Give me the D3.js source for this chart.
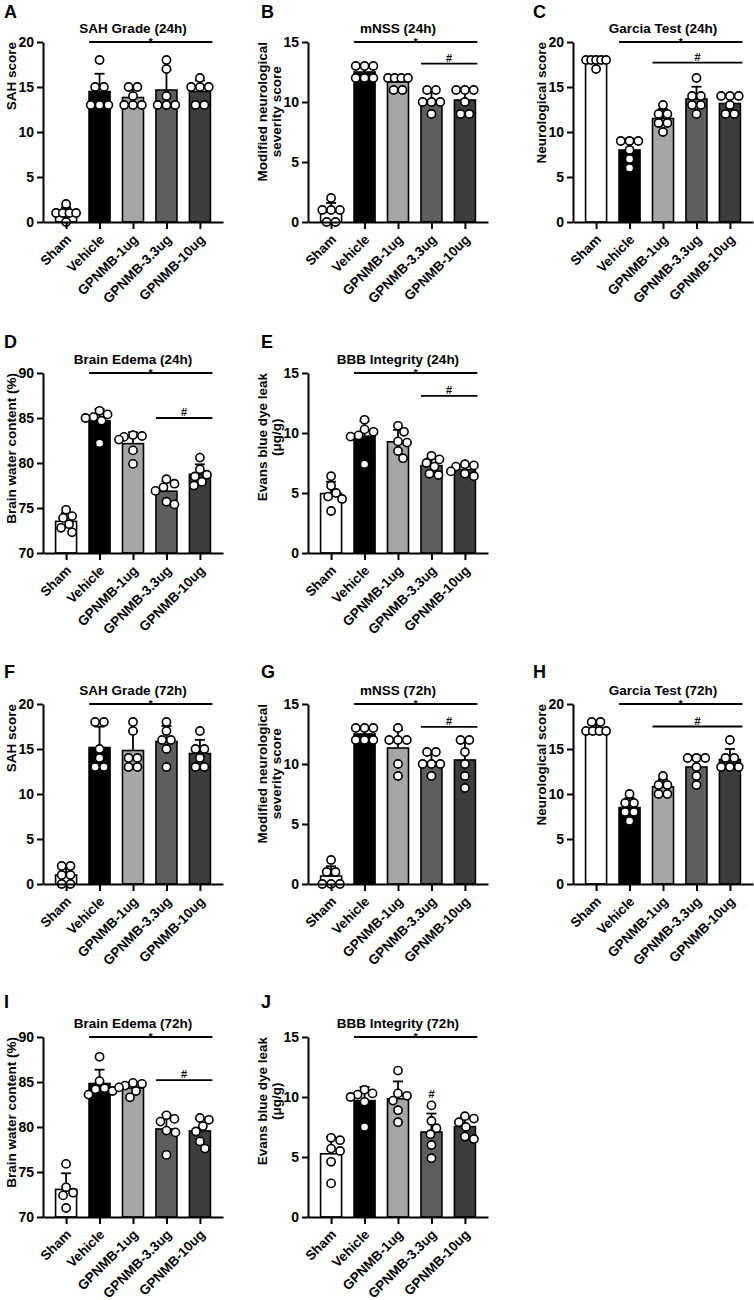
<!DOCTYPE html>
<html><head><meta charset="utf-8">
<script src="https://cdn.jsdelivr.net/npm/d3@7"></script>
<style>
body{margin:0;background:#fff}
svg text{font-family:"Liberation Sans",Arial,sans-serif;font-weight:bold;fill:#000}
</style>
</head><body>
<svg id="chart" width="754" height="1300"></svg>
<script>
// ---------------- DATA ----------------
const groups = ["Sham", "Vehicle", "GPNMB-1ug", "GPNMB-3.3ug", "GPNMB-10ug"];
const groupFills = ["#ffffff", "#000000", "#a6a6a6", "#5e5e5e", "#3d3d3d"];

const sahGrade24 = [[2,1,1,1,1,0],[18,15,15,13,13,13],[15,15,14,13,13,13],[18,17,14,13,13,13],[16,15,15,15,13,13]];
const mnss24     = [[2,1,1,1,0,0],[13,13,13,12,12,12],[12,12,12,12,11,11],[11,11,10,10,10,9],[11,11,11,10,9,9]];
const garcia24   = [[18,18,18,18,18,17],[9,9,9,8,7,6],[13,12,12,11,11,10],[16,14,14,13,13,12],[14,14,14,13,12,12]];
const edema24    = [[74.8,74.1,73.9,73.2,72.8,72.3],[85.8,85.4,85.1,85.0,84.7,82.2],[83.1,83.0,82.9,82.6,81.4,79.9],[78.2,77.7,77.3,76.9,75.7,75.4],[80.6,79.3,78.7,78.5,77.9,77.5]];
const bbb24      = [[6.4,5.6,5.0,4.7,4.5,3.5],[11.1,10.3,10.1,9.8,9.7,7.4],[10.6,10.1,9.3,9.2,8.5,7.9],[8.1,7.8,7.5,7.2,6.6,6.5],[7.4,7.3,7.2,6.8,6.6,6.4]];
const sahGrade72 = [[2,2,1,1,0,0],[18,18,15,14,13,13],[18,17,14,14,13,13],[18,17,16,16,15,13],[17,15,15,14,13,13]];
const mnss72     = [[2,1,1,0,0,0],[13,13,13,12,12,12],[13,12,12,12,10,9],[11,11,10,10,10,9],[12,12,11,10,9,8]];
const garcia72   = [[18,18,17,17,17,17],[10,9,9,8,8,7],[12,11,11,10,10],[14,14,14,13,12,11],[16,14,14,13,13,13]];
const edema72    = [[75.9,73.3,72.7,72.4,71.0],[87.8,85.1,84.3,84.2,84.0,83.6],[84.9,84.8,84.6,84.4,84.0,83.3],[81.3,80.9,80.6,79.6,79.4,76.9],[81.0,80.8,80.1,79.5,78.4,77.6]];
const bbb72      = [[6.6,6.4,5.7,5.5,4.6,2.8],[10.6,10.3,10.2,10.0,9.6,7.5],[12.2,10.3,10.1,9.7,8.9,7.9],[9.3,8.0,7.4,6.9,6.0,4.9],[8.4,8.2,7.9,7.5,6.7,6.5]];

const ticks20 = [0,5,10,15,20];
const ticks15 = [0,5,10,15];
const ticks90 = [70,75,80,85,90];

const panels = [
  {letter:"A", title:"SAH Grade (24h)", ylabel:["SAH score"], domain:[0,20], ticks:ticks20, data:sahGrade24,
   sig:[{from:1,to:4,at:20,sym:"*"}]},
  {letter:"B", title:"mNSS (24h)", ylabel:["Modified neurological","severity score"], domain:[0,15], ticks:ticks15, data:mnss24,
   sig:[{from:1,to:4,at:15,sym:"*"},{from:3,to:4,at:13.2,sym:"#"}]},
  {letter:"C", title:"Garcia Test (24h)", ylabel:["Neurological score"], domain:[0,20], ticks:ticks20, data:garcia24,
   sig:[{from:1,to:4,at:20,sym:"*"},{from:2,to:4,at:17.7,sym:"#"}]},
  {letter:"D", title:"Brain Edema (24h)", ylabel:["Brain water content (%)"], domain:[70,90], ticks:ticks90, data:edema24,
   sig:[{from:1,to:4,at:90,sym:"*"},{from:3,to:4,at:85,sym:"#"}]},
  {letter:"E", title:"BBB Integrity (24h)", ylabel:["Evans blue dye leak","(\u03bcg/g)"], domain:[0,15], ticks:ticks15, data:bbb24,
   sig:[{from:1,to:4,at:15,sym:"*"},{from:3,to:4,at:13.1,sym:"#"}]},
  {letter:"F", title:"SAH Grade (72h)", ylabel:["SAH score"], domain:[0,20], ticks:ticks20, data:sahGrade72,
   sig:[{from:1,to:4,at:20,sym:"*"}]},
  {letter:"G", title:"mNSS (72h)", ylabel:["Modified neurological","severity score"], domain:[0,15], ticks:ticks15, data:mnss72,
   sig:[{from:1,to:4,at:15,sym:"*"},{from:3,to:4,at:13.1,sym:"#"}]},
  {letter:"H", title:"Garcia Test (72h)", ylabel:["Neurological score"], domain:[0,20], ticks:ticks20, data:garcia72,
   sig:[{from:1,to:4,at:20,sym:"*"},{from:2,to:4,at:17.5,sym:"#"}]},
  {letter:"I", title:"Brain Edema (72h)", ylabel:["Brain water content (%)"], domain:[70,90], ticks:ticks90, data:edema72,
   sig:[{from:1,to:4,at:90,sym:"*"},{from:3,to:4,at:85.2,sym:"#"}]},
  {letter:"J", title:"BBB Integrity (72h)", ylabel:["Evans blue dye leak","(\u03bcg/g)"], domain:[0,15], ticks:ticks15, data:bbb72,
   sig:[{from:1,to:4,at:15,sym:"*"}], mark:{group:3, sym:"#"}}
];

// ---------------- LAYOUT ----------------
const colX = [43, 308, 573];          // y-axis x position per column
const rowTop = [42, 373, 704, 1037];  // plot top per row
const letterX = [4, 261, 533];
const letterY = [18, 348, 678, 1008];
const plotW = 180, plotH = 180, barW = 21;
const cells = [[0,0],[0,1],[0,2],[1,0],[1,1],[2,0],[2,1],[2,2],[3,0],[3,1]];

const svg = d3.select("#chart");

function layoutDots(vals, y, xc) {
  const sorted = vals.slice().sort((a,b)=>b-a);
  const grp = d3.groups(sorted, v=>v);
  const placed = [];
  const minD = 8.4;
  grp.forEach(([v, arr]) => {
    const k = arr.length, py = y(v);
    const sp = k > 1 ? Math.min(8.8, 20/(k-1)) : 0;
    const cands = [0];
    for (let c=1;c<=14;c++) cands.push(c,-c);
    for (let ci=0; ci<cands.length; ci++) {
      const c = cands[ci];
      const xs = arr.map((_,i)=> c + (i-(k-1)/2)*sp);
      const ok = xs.every(xx => placed.every(p => Math.hypot(p.x-xx, p.y-py) >= minD));
      if (ok || ci === cands.length-1) { xs.forEach(xx=>placed.push({x:xx,y:py})); break; }
    }
  });
  return placed.map(p=>({cx: xc+p.x, cy: p.y}));
}

panels.forEach((p, idx) => {
  const [row, col] = cells[idx];
  const x0 = colX[col], top = rowTop[row], bottom = top + plotH;
  const g = svg.append("g");

  const x = d3.scalePoint().domain(groups).range([x0, x0 + plotW]).padding(0.69);
  const y = d3.scaleLinear().domain(p.domain).range([bottom, top]);

  // letter
  g.append("text").attr("x", letterX[col]).attr("y", letterY[row])
    .style("font-size","18px").text(p.letter);

  // title
  g.append("text").attr("x", x0 + plotW/2).attr("y", top - 9)
    .attr("text-anchor","middle").style("font-size","13.5px").text(p.title);

  // bars
  const stats = p.data.map(v => ({mean: d3.mean(v), sd: d3.deviation(v)}));
  groups.forEach((gname, i) => {
    const s = stats[i];
    g.append("rect")
      .attr("x", x(gname) - barW/2).attr("width", barW)
      .attr("y", y(s.mean)).attr("height", y(p.domain[0]) - y(s.mean))
      .attr("fill", groupFills[i]).attr("stroke","#000").attr("stroke-width",1.6);
    const ye = y(s.mean + s.sd);
    g.append("line").attr("x1", x(gname)).attr("x2", x(gname))
      .attr("y1", y(s.mean)).attr("y2", ye).attr("stroke","#000").attr("stroke-width",1.8);
    g.append("line").attr("x1", x(gname)-5).attr("x2", x(gname)+5)
      .attr("y1", ye).attr("y2", ye).attr("stroke","#000").attr("stroke-width",1.8);
  });

  // dots
  groups.forEach((gname, i) => {
    const pts = layoutDots(p.data[i], y, x(gname));
    g.selectAll(null).data(pts).enter().append("circle")
      .attr("cx", d=>d.cx).attr("cy", d=>d.cy).attr("r", 4.1)
      .attr("fill","#fff").attr("stroke","#000").attr("stroke-width",1.6);
  });

  // axes
  const ya = g.append("g").attr("transform", `translate(${x0},0)`)
    .call(d3.axisLeft(y).tickValues(p.ticks).tickSize(6).tickSizeOuter(0).tickPadding(3).tickFormat(d3.format("d")));
  ya.select(".domain").attr("stroke-width", 2);
  ya.selectAll(".tick line").attr("stroke-width", 2);
  ya.selectAll(".tick text").style("font-size","14px");

  const xa = g.append("g").attr("transform", `translate(0,${bottom})`)
    .call(d3.axisBottom(x).tickSize(7).tickSizeOuter(0));
  xa.select(".domain").attr("stroke-width", 2);
  xa.selectAll(".tick line").attr("stroke-width", 2);
  xa.selectAll(".tick text")
    .attr("x", 0).attr("y", 0).attr("dy", "0.35em")
    .attr("text-anchor","end")
    .attr("transform","translate(2,15) rotate(-45)")
    .style("font-size","13.5px");
  ya.attr("font-family", null); xa.attr("font-family", null);

  // y label (end of longest line aligned to top of axis)
  const n = p.ylabel.length;
  const probe = g.append("text").style("font-size","13.5px");
  const maxLen = d3.max(p.ylabel, line => { probe.text(line); return probe.node().getComputedTextLength(); });
  probe.remove();
  const cy = top + maxLen/2;
  p.ylabel.forEach((line, i) => {
    const bx = x0 - 27 - (n-1-i)*14;
    g.append("text").attr("text-anchor","middle").style("font-size","13.5px")
      .attr("transform", `translate(${bx},${cy}) rotate(-90)`).text(line);
  });

  // significance lines
  p.sig.forEach(s => {
    const ly = y(s.at);
    const xa1 = x(groups[s.from]) - barW/2, xa2 = x(groups[s.to]) + barW/2 + 2;
    g.append("line").attr("x1", xa1).attr("x2", xa2).attr("y1", ly).attr("y2", ly)
      .attr("stroke","#000").attr("stroke-width",1.8);
    g.append("text").attr("x", (xa1+xa2)/2).attr("y", s.sym === "*" ? ly + 4 : ly - 2)
      .attr("text-anchor","middle").attr("fill","#000")
      .style("font-size", s.sym === "*" ? "11px" : "11px").style("font-weight","bold")
      .text(s.sym);
  });
  if (p.mark) {
    const gname = groups[p.mark.group];
    const vmax = d3.max(p.data[p.mark.group]);
    g.append("text").attr("x", x(gname)).attr("y", y(vmax) - 7)
      .attr("text-anchor","middle").attr("fill","#000").style("font-size","11px")
      .text(p.mark.sym);
  }
});
</script>
</body></html>
